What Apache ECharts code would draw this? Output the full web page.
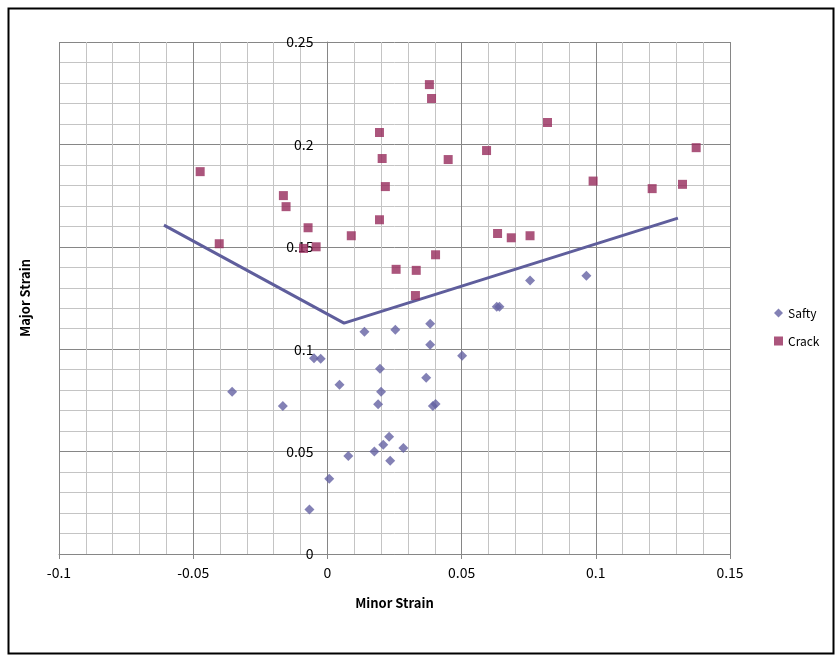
<!DOCTYPE html>
<html>
<head>
<meta charset="utf-8">
<script src="https://cdn.jsdelivr.net/npm/echarts@6/dist/echarts.min.js"></script>
<style>
html,body{margin:0;padding:0;background:#fff;}
#c{width:837px;height:657px;}
</style>
</head>
<body>
<div id="c"></div>
<script>
// Safty points [minor, major]
var saftyX = [-0.0355,-0.0166,-0.0050,-0.0025,0.0045,0.0078,0.0007,-0.0067,0.0138,0.0253,0.0383,0.0383,0.0502,0.0196,0.0368,0.0200,0.0189,0.0393,0.0403,0.0230,0.0208,0.0175,0.0283,0.0234,0.0631,0.0641,0.0755,0.0965];
var saftyY = [0.0792,0.0723,0.0956,0.0953,0.0826,0.0479,0.0367,0.0217,0.1085,0.1095,0.1124,0.1022,0.0968,0.0904,0.0860,0.0792,0.0731,0.0723,0.0733,0.0573,0.0533,0.0501,0.0518,0.0455,0.1207,0.1207,0.1336,0.1359];
// Crack points
var crackX = [-0.0474,-0.0403,-0.0164,-0.0154,-0.0072,-0.0089,-0.0042,0.0089,0.0380,0.0388,0.0194,0.0204,0.0216,0.0194,0.0450,0.0593,0.0820,0.0990,0.1210,0.1323,0.1374,0.0634,0.0685,0.0755,0.0403,0.0256,0.0331,0.0328];
var crackY = [0.1867,0.1515,0.1750,0.1696,0.1593,0.1492,0.1500,0.1554,0.2292,0.2224,0.2058,0.1931,0.1794,0.1632,0.1926,0.1970,0.2107,0.1821,0.1784,0.1805,0.1984,0.1565,0.1544,0.1554,0.1461,0.1390,0.1385,0.1262];
// Forming limit line
var limitX = [-0.0609, 0.0062, 0.1306];
var limitY = [0.1606, 0.1127, 0.1640];
// Axis ticks
var xTicks = {min:-0.1, max:0.15, interval:0.05};
var yTicks = {min:0, max:0.25, interval:0.05};

function pairs(xs, ys){ return xs.map(function(x,i){ return [x, ys[i]]; }); }

var FONT = '"Noto Sans CJK KR", "Noto Sans", sans-serif';
var GRID = {left:59, top:42, right:107, bottom:103};
var plotW = 837 - GRID.left - GRID.right;
// y axis crosses x = 0: shift it from the left edge to x = 0
var yOffset = -plotW * (0 - xTicks.min) / (xTicks.max - xTicks.min);

var chart = echarts.init(document.getElementById('c'), null, {renderer:'canvas'});
chart.setOption({
  animation:false,
  backgroundColor:'#ffffff',
  textStyle:{fontFamily:FONT},
  grid:{left:GRID.left, top:GRID.top, right:GRID.right, bottom:GRID.bottom, containLabel:false, show:false},
  xAxis:{
    type:'value', min:xTicks.min, max:xTicks.max, interval:xTicks.interval,
    name:'Minor Strain', nameLocation:'middle', nameGap:43,
    nameTextStyle:{fontFamily:FONT, fontWeight:'bold', fontSize:13, color:'#000'},
    axisLine:{show:true, onZero:false, lineStyle:{color:'#868686', width:1}},
    axisTick:{show:true, length:5, lineStyle:{color:'#868686'}},
    axisLabel:{color:'#000', fontSize:14, margin:12, fontFamily:FONT},
    splitLine:{show:true, lineStyle:{color:'#868686', width:1}},
    minorTick:{show:false, splitNumber:5},
    minorSplitLine:{show:true, lineStyle:{color:'#c4c4c4', width:1}}
  },
  yAxis:{
    type:'value', min:yTicks.min, max:yTicks.max, interval:yTicks.interval,
    offset:yOffset,
    axisLine:{show:true, onZero:false, lineStyle:{color:'#868686', width:1}},
    axisTick:{show:true, length:5, lineStyle:{color:'#868686'}},
    axisLabel:{color:'#000', fontSize:14, margin:14, fontFamily:FONT},
    splitLine:{show:true, lineStyle:{color:'#868686', width:1}},
    minorTick:{show:false, splitNumber:5},
    minorSplitLine:{show:true, lineStyle:{color:'#c4c4c4', width:1}}
  },
  legend:{
    orient:'vertical', left:769, top:302, itemGap:16, itemWidth:9, itemHeight:9,
    textStyle:{fontFamily:FONT, fontSize:12, color:'#000'},
    data:[{name:'Safty', icon:'diamond'},{name:'Crack', icon:'rect'}]
  },
  graphic:[
    {type:'rect', left:6, top:6, shape:{width:825, height:645}, style:{fill:'none', stroke:'#000', lineWidth:2}, silent:true, z:-1},
    {type:'text', x:25, y:298, rotation:Math.PI/2, style:{text:'Major Strain', font:'bold 13px ' + FONT, fill:'#000', textAlign:'center', textVerticalAlign:'middle'}}
  ],
  series:[
    {name:'Limit', type:'line', data:pairs(limitX, limitY), showSymbol:false, symbol:'none',
     lineStyle:{color:'#5f5e9c', width:3}, z:3, silent:true},
    {name:'Safty', type:'scatter', data:pairs(saftyX, saftyY), symbol:'diamond', symbolSize:10,
     itemStyle:{color:'#6462a2'}, z:4},
    {name:'Crack', type:'scatter', data:pairs(crackX, crackY), symbol:'rect', symbolSize:9,
     itemStyle:{color:'#962b5b'}, z:4}
  ]
});
</script>
</body>
</html>
